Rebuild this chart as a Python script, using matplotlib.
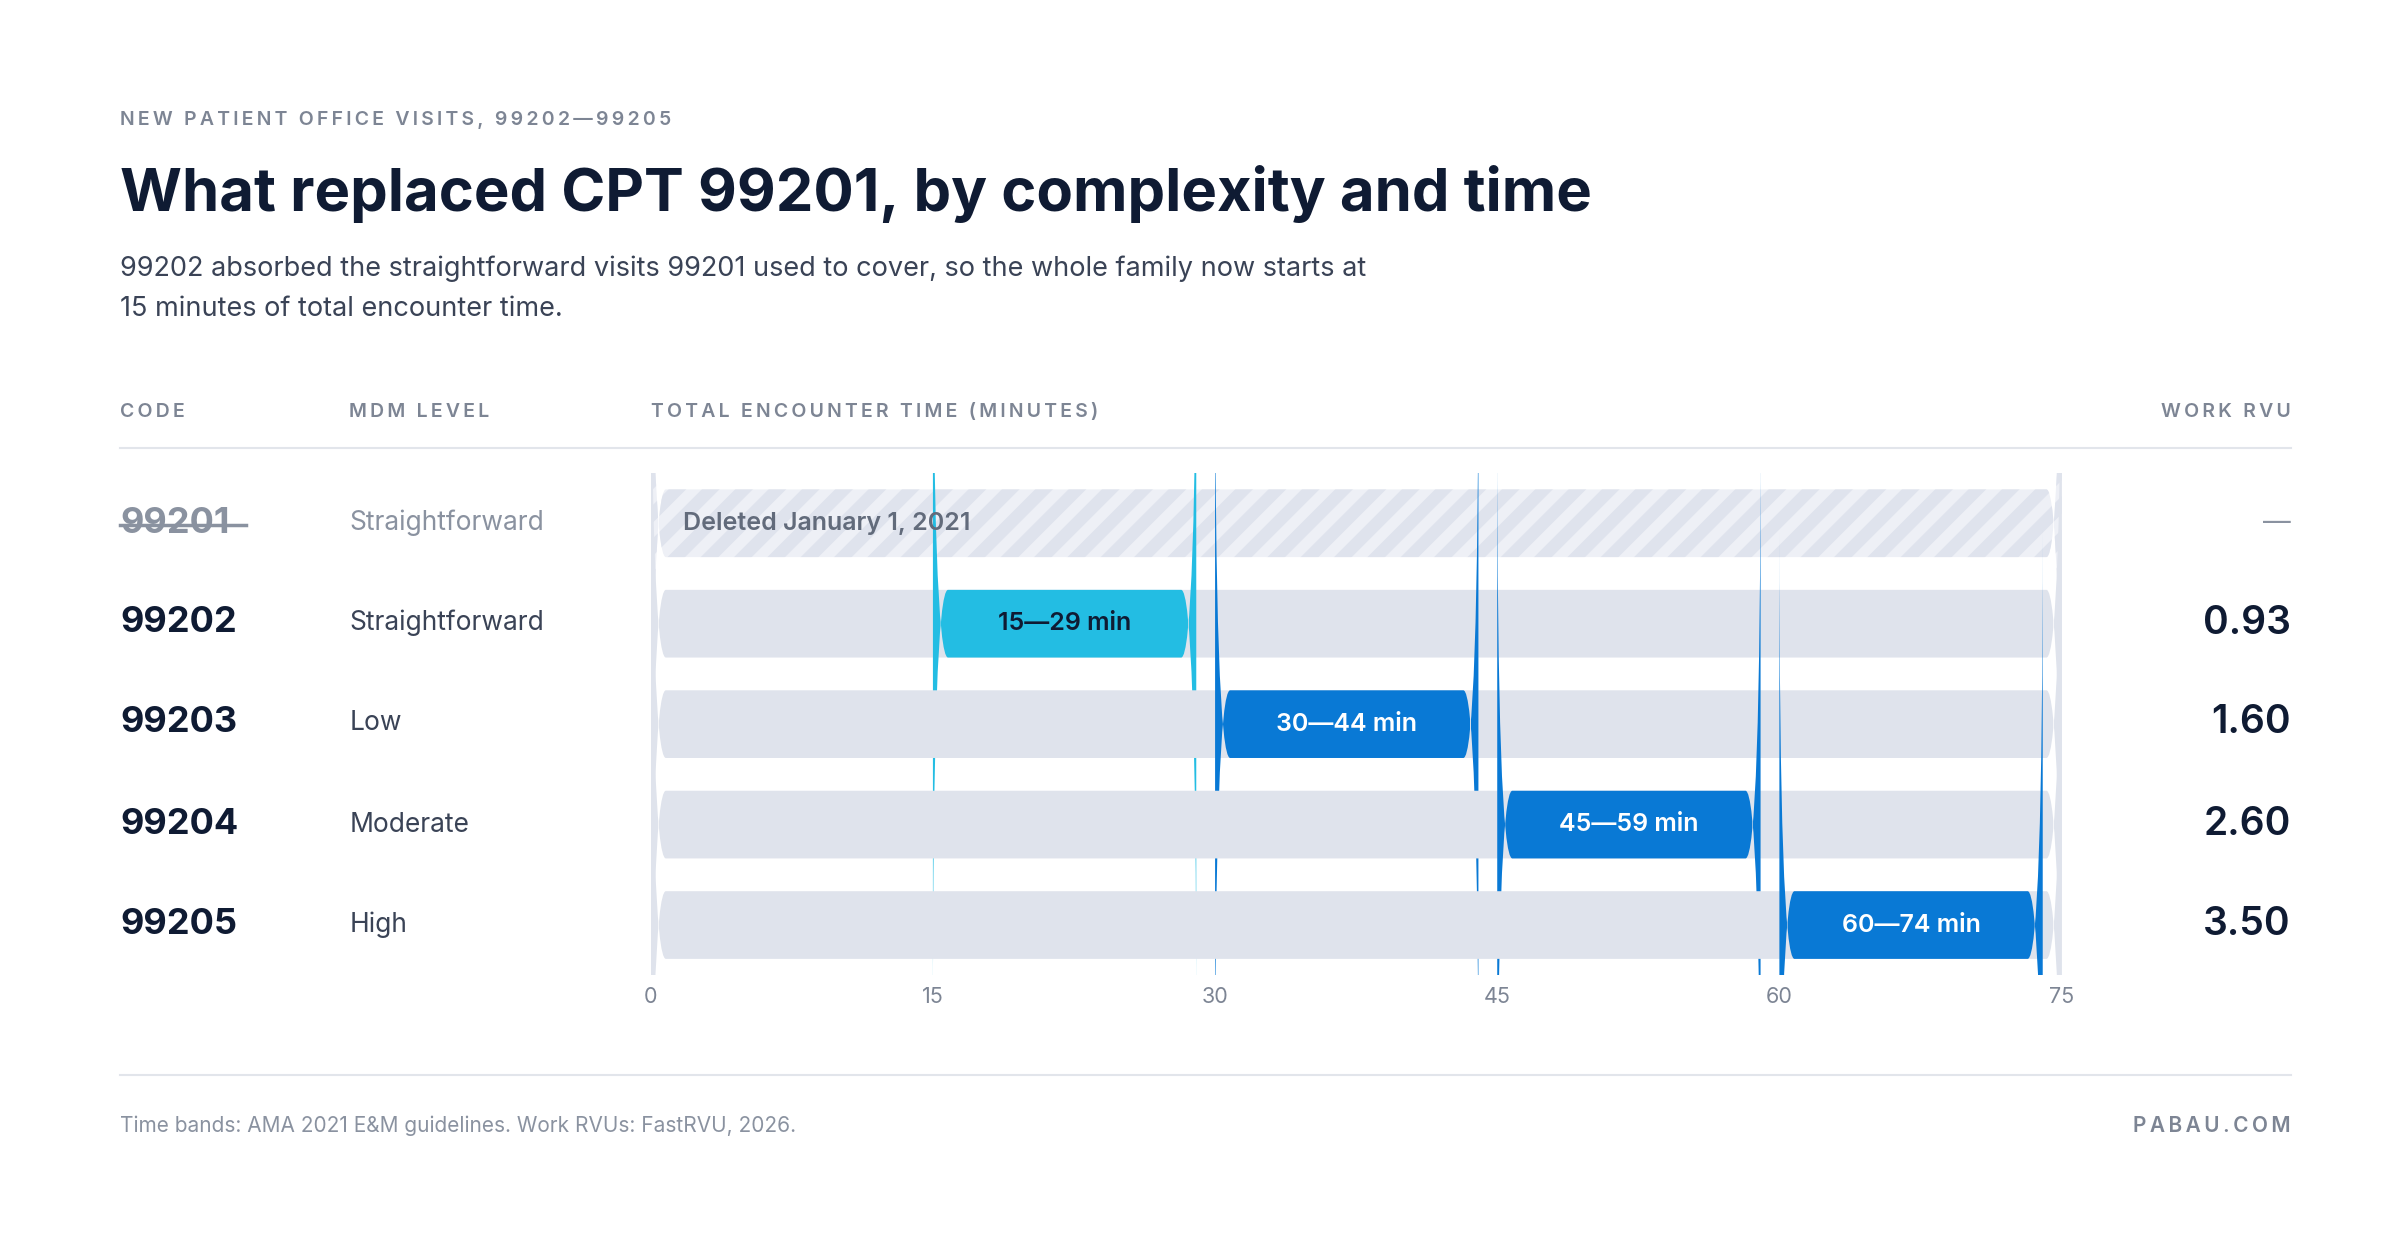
import matplotlib
matplotlib.use("Agg")
import matplotlib.pyplot as plt
from matplotlib.patches import FancyBboxPatch

codes = ["99201", "99202", "99203", "99204", "99205"]
mdm = ["Straightforward", "Straightforward", "Low", "Moderate", "High"]
band_start = [None, 15, 30, 45, 60]
band_end = [None, 29, 44, 59, 74]
band_labels = [None, "15—29 min", "30—44 min", "45—59 min", "60—74 min"]
rvu = ["—", "0.93", "1.60", "2.60", "3.50"]
ticks = [0, 15, 30, 45, 60, 75]

plt.rcParams['font.family'] = ['Inter', 'DejaVu Sans']
plt.rcParams['hatch.linewidth'] = 9
W, H = 1560, 810
fig = plt.figure(figsize=(24, 12.46), dpi=100)
ov = fig.add_axes([0, 0, 1, 1]); ov.set_xlim(0, W); ov.set_ylim(H, 0); ov.axis('off')
DARK = "#0f1b33"; GRAY = "#7d8594"; MID = "#3a4356"
def sp(s): return "\u2009".join(s)  # fake letter spacing

ov.text(78, 78, sp("NEW PATIENT OFFICE VISITS, 99202—99205"), fontsize=14, color=GRAY, va='center', fontweight='semibold')
ov.text(78, 126, "What replaced CPT 99201, by complexity and time", fontsize=43, color=DARK, va='center', fontweight='bold')
ov.text(78, 175, "99202 absorbed the straightforward visits 99201 used to cover, so the whole family now starts at", fontsize=19.5, color=MID, va='center')
ov.text(78, 201, "15 minutes of total encounter time.", fontsize=19.5, color=MID, va='center')
for x, t, ha in [(78, "CODE", 'left'), (227, "MDM LEVEL", 'left'), (423, "TOTAL ENCOUNTER TIME (MINUTES)", 'left'), (1489, "WORK RVU", 'right')]:
    ov.text(x, 268, sp(t), fontsize=14, color=GRAY, va='center', ha=ha, fontweight='semibold')
ov.plot([78, 1489], [291, 291], color="#e2e5eb", lw=1.5)
ov.plot([78, 1489], [699, 699], color="#e2e5eb", lw=1.5)
ov.text(78, 732, "Time bands: AMA 2021 E&M guidelines. Work RVUs: FastRVU, 2026.", fontsize=15, color="#8a92a0", va='center')
ov.text(1489, 732, sp("PABAU.COM"), fontsize=15, color=GRAY, va='center', ha='right', fontweight='semibold')

ys = [340, 405, 470, 536, 601]
for i in range(5):
    y = ys[i]
    if i == 0:
        ov.text(78, y, codes[i], fontsize=26, color="#8a92a0", va='center', fontweight='bold')
        ov.plot([78, 160], [y + 1, y + 1], color="#8a92a0", lw=2.5)
        ov.text(227, y, mdm[i], fontsize=19, color="#8a92a0", va='center')
        ov.text(1489, y, rvu[i], fontsize=20, color="#8a92a0", va='center', ha='right')
    else:
        ov.text(78, y, codes[i], fontsize=26, color=DARK, va='center', fontweight='bold')
        ov.text(227, y, mdm[i], fontsize=19, color=MID, va='center')
        ov.text(1489, y, rvu[i], fontsize=28, color=DARK, va='center', ha='right', fontweight='semibold')

# bar axes
x0, x1 = 423, 1340
top, rowh = 307.5, 65.3
ax = fig.add_axes([x0 / W, 1 - (top + 5 * rowh) / H, (x1 - x0) / W, 5 * rowh / H])
ax.set_xlim(0, 75); ax.set_ylim(4.5, -0.5); ax.axis('off')
asp = (1 / rowh) / (75 / (x1 - x0) / 75 * 75 / 75) if False else ((x1 - x0) / 75) / rowh
hb = 44 / rowh
def rbox(xs, xe, i, **kw):
    p = FancyBboxPatch((xs, i - hb / 2), xe - xs, hb, boxstyle="round,pad=0,rounding_size=0.8",
                       mutation_aspect=1 / asp * 0 + (1 / asp), **kw)
    ax.add_patch(p); return p
for i in range(5):
    if i == 0:
        rbox(0, 75, i, facecolor="#eef0f6", edgecolor="none")
        rbox(0, 75, i, facecolor="none", edgecolor="#dfe3ed", hatch="/", lw=0)
        ax.text(1.7, i, "Deleted January 1, 2021", fontsize=18, color="#626b7b", va='center', fontweight='semibold')
    else:
        rbox(0, 75, i, facecolor="#dfe3ec", edgecolor="none")
        col = "#23bde3" if i == 1 else "#0979d5"
        tc = DARK if i == 1 else "white"
        rbox(band_start[i], band_end[i], i, facecolor=col, edgecolor="none")
        ax.text((band_start[i] + band_end[i]) / 2, i, band_labels[i], fontsize=18, color=tc,
                va='center', ha='center', fontweight='semibold')
for t in ticks:
    ax.text(t, 4.5 + (648 - 634) / rowh, str(t), fontsize=15.5, color=GRAY, ha='center', va='center', clip_on=False)

fig.savefig("out.png", dpi=100, facecolor="white")
